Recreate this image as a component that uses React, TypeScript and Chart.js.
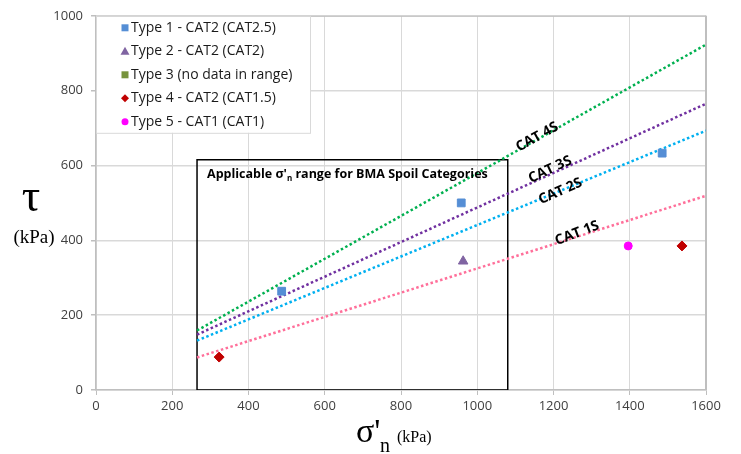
import React, { useEffect, useRef } from "react";
import { Chart, registerables } from "chart.js";
Chart.register(...registerables);

// ---- data ----
const xMin = 0, xMax = 1600, xStep = 200;
const yMin = 0, yMax = 1000, yStep = 200;

const type1X = [487, 958, 1485];
const type1Y = [264, 500, 633];
const type2X = [963];
const type2Y = [344];
const type3X: number[] = [];
const type3Y: number[] = [];
const type4X = [323, 1537];
const type4Y = [88, 385];
const type5X = [1396];
const type5Y = [385];

const seriesNames = [
  "Type 1 - CAT2 (CAT2.5)",
  "Type 2 - CAT2 (CAT2)",
  "Type 3 (no data in range)",
  "Type 4 - CAT2 (CAT1.5)",
  "Type 5 - CAT1 (CAT1)",
];
const seriesColors = ["#558ed5", "#8064a2", "#77933c", "#c00000", "#ff00ff"];
const seriesStyles = ["rect", "triangle", "rect", "rectRot", "circle"];

const catNames = ["CAT 4S", "CAT 3S", "CAT 2S", "CAT 1S"];
const catColors = ["#00b050", "#7030a0", "#00b0f0", "#ff6f9a"];
const catX = [265, 1600];
const catStartY = [159, 148, 132, 87];
const catEndY = [923, 765, 693, 519];
const catLabelX = [1157, 1191, 1218, 1262];
const catLabelY = [676, 589, 531, 419];
const catLabelAngle = [-29, -25, -24, -21];

const boxX = [265, 1080];
const boxY = [0, 615];
const boxLabelParts = ["Applicable σ'", "n", " range for BMA Spoil Categories"];

const zip = (xs: number[], ys: number[]) => xs.map((x, i) => ({ x, y: ys[i] }));

export default function App() {
  const ref = useRef<HTMLCanvasElement | null>(null);
  useEffect(() => {
    if (!ref.current) return;
    const pointSets = [
      zip(type1X, type1Y),
      zip(type2X, type2Y),
      zip(type3X, type3Y),
      zip(type4X, type4Y),
      zip(type5X, type5Y),
    ];
    const radii = [5.5, 5.5, 5.5, 5, 4];
    const datasets: any[] = pointSets.map((d, i) => ({
      label: seriesNames[i],
      data: d,
      pointStyle: seriesStyles[i],
      pointRadius: radii[i],
      backgroundColor: seriesColors[i],
      borderColor: seriesColors[i],
      borderWidth: 1,
      showLine: false,
      order: 0,
    }));
    catNames.forEach((n, i) => {
      datasets.push({
        label: n,
        data: [
          { x: catX[0], y: catStartY[i] },
          { x: catX[1], y: catEndY[i] },
        ],
        showLine: true,
        pointRadius: 0,
        borderColor: catColors[i],
        borderWidth: 2.5,
        borderDash: [2.5, 2.5],
        fill: false,
        order: 1,
      });
    });
    datasets.push({
      label: "box",
      data: [
        { x: boxX[0], y: boxY[0] },
        { x: boxX[0], y: boxY[1] },
        { x: boxX[1], y: boxY[1] },
        { x: boxX[1], y: boxY[0] },
        { x: boxX[0], y: boxY[0] },
      ],
      showLine: true,
      pointRadius: 0,
      borderColor: "#000000",
      borderWidth: 1.5,
      fill: false,
      order: 2,
    });

    const drawMarker = (ctx: CanvasRenderingContext2D, style: string, x: number, y: number, color: string) => {
      ctx.save();
      ctx.fillStyle = color;
      ctx.beginPath();
      if (style === "rect") {
        ctx.rect(x - 3.5, y - 3.5, 7, 7);
      } else if (style === "triangle") {
        ctx.moveTo(x, y - 4.5);
        ctx.lineTo(x + 4.5, y + 3.5);
        ctx.lineTo(x - 4.5, y + 3.5);
        ctx.closePath();
      } else if (style === "rectRot") {
        ctx.moveTo(x, y - 4);
        ctx.lineTo(x + 4, y);
        ctx.lineTo(x, y + 4);
        ctx.lineTo(x - 4, y);
        ctx.closePath();
      } else {
        ctx.arc(x, y, 3.5, 0, Math.PI * 2);
      }
      ctx.fill();
      ctx.restore();
    };

    const overlay = {
      id: "overlay",
      beforeDatasetsDraw(chart: any) {
        const { ctx, chartArea } = chart;
        ctx.save();
        ctx.strokeStyle = "#bfbfbf";
        ctx.lineWidth = 1;
        ctx.beginPath();
        ctx.moveTo(chartArea.left, chartArea.top + 0.5);
        ctx.lineTo(chartArea.right, chartArea.top + 0.5);
        ctx.stroke();
        ctx.lineWidth = 2;
        ctx.beginPath();
        ctx.moveTo(chartArea.right, chartArea.top);
        ctx.lineTo(chartArea.right, chartArea.bottom);
        ctx.stroke();
        ctx.restore();
      },
      afterDraw(chart: any) {
        const { ctx, chartArea } = chart;
        const xs = chart.scales.x;
        const ys = chart.scales.y;
        ctx.save();
        // CAT labels
        ctx.font = "bold 14px 'Open Sans'";
        ctx.fillStyle = "#000";
        ctx.textAlign = "center";
        ctx.textBaseline = "middle";
        catNames.forEach((n, i) => {
          const px = xs.getPixelForValue(catLabelX[i]);
          const py = ys.getPixelForValue(catLabelY[i]);
          ctx.save();
          ctx.translate(px, py);
          ctx.rotate((catLabelAngle[i] * Math.PI) / 180);
          ctx.fillText(n, 0, 0);
          ctx.restore();
        });
        // box label
        let bx = xs.getPixelForValue(boxX[0]) + 10;
        const by = ys.getPixelForValue(boxY[1]) + 18;
        ctx.textAlign = "left";
        ctx.textBaseline = "alphabetic";
        ctx.font = "bold 12.5px 'Open Sans'";
        ctx.fillText(boxLabelParts[0], bx, by);
        bx += ctx.measureText(boxLabelParts[0]).width;
        ctx.font = "bold 8px 'Open Sans'";
        ctx.fillText(boxLabelParts[1], bx, by + 3);
        bx += ctx.measureText(boxLabelParts[1]).width;
        ctx.font = "bold 12.5px 'Open Sans'";
        ctx.fillText(boxLabelParts[2], bx, by);

        // legend
        const lx = chartArea.left;
        const ly = chartArea.top;
        ctx.fillStyle = "#ffffff";
        ctx.fillRect(lx + 1, ly + 1, 213, 116);
        ctx.strokeStyle = "#d9d9d9";
        ctx.lineWidth = 1;
        ctx.strokeRect(lx + 0.5, ly + 0.5, 214, 117);
        ctx.font = "14px 'Open Sans'";
        ctx.textBaseline = "middle";
        seriesNames.forEach((n, i) => {
          const ry = ly + 12 + i * 23.5;
          drawMarker(ctx, seriesStyles[i], lx + 29, ry, seriesColors[i]);
          ctx.fillStyle = "#1a1a1a";
          ctx.fillText(n, lx + 35, ry);
        });

        // axis titles
        ctx.fillStyle = "#000";
        ctx.textBaseline = "alphabetic";
        ctx.textAlign = "center";
        ctx.font = "46px 'Liberation Serif'";
        ctx.fillText("τ", 31, 211);
        ctx.font = "19px 'Liberation Serif'";
        ctx.fillText("(kPa)", 34, 243);
        ctx.textAlign = "left";
        ctx.font = "34px 'Liberation Serif'";
        ctx.fillText("σ'", 356, 442);
        ctx.font = "20px 'Liberation Serif'";
        ctx.fillText("n", 380, 452);
        ctx.font = "16px 'Liberation Serif'";
        ctx.fillText("(kPa)", 397, 442);
        ctx.restore();
      },
    };

    const tickFont = { family: "'Open Sans'", size: 13 };
    const plain = (v: any) => String(v);
    const chart = new Chart(ref.current, {
      type: "scatter",
      data: { datasets },
      options: {
        animation: false,
        responsive: false,
        layout: { padding: { top: 13, right: 35, left: 0, bottom: 0 } },
        plugins: { legend: { display: false }, tooltip: { enabled: false } },
        scales: {
          x: {
            type: "linear",
            min: xMin,
            max: xMax,
            ticks: { stepSize: xStep, font: tickFont, color: "#404040", padding: 3, callback: plain },
            grid: { color: "#d9d9d9", tickColor: "#bfbfbf", tickLength: 5, lineWidth: 1 },
            border: { color: "#bfbfbf", width: 1.5 },
            afterFit: (s: any) => { s.height = 64; },
          },
          y: {
            type: "linear",
            min: yMin,
            max: yMax,
            ticks: { stepSize: yStep, font: tickFont, color: "#404040", padding: 8, callback: plain },
            grid: { color: "#d9d9d9", tickColor: "#bfbfbf", tickLength: 5, lineWidth: 1.5 },
            border: { color: "#bfbfbf", width: 1.5 },
            afterFit: (s: any) => { s.width = 96; },
          },
        },
      } as any,
      plugins: [overlay],
    });
    return () => chart.destroy();
  }, []);

  return (
    <div style={{ position: "absolute", left: 0, top: 0, width: 741, height: 454, background: "#fff" }}>
      <canvas ref={ref} width={741} height={454} style={{ width: 741, height: 454 }} />
    </div>
  );
}
